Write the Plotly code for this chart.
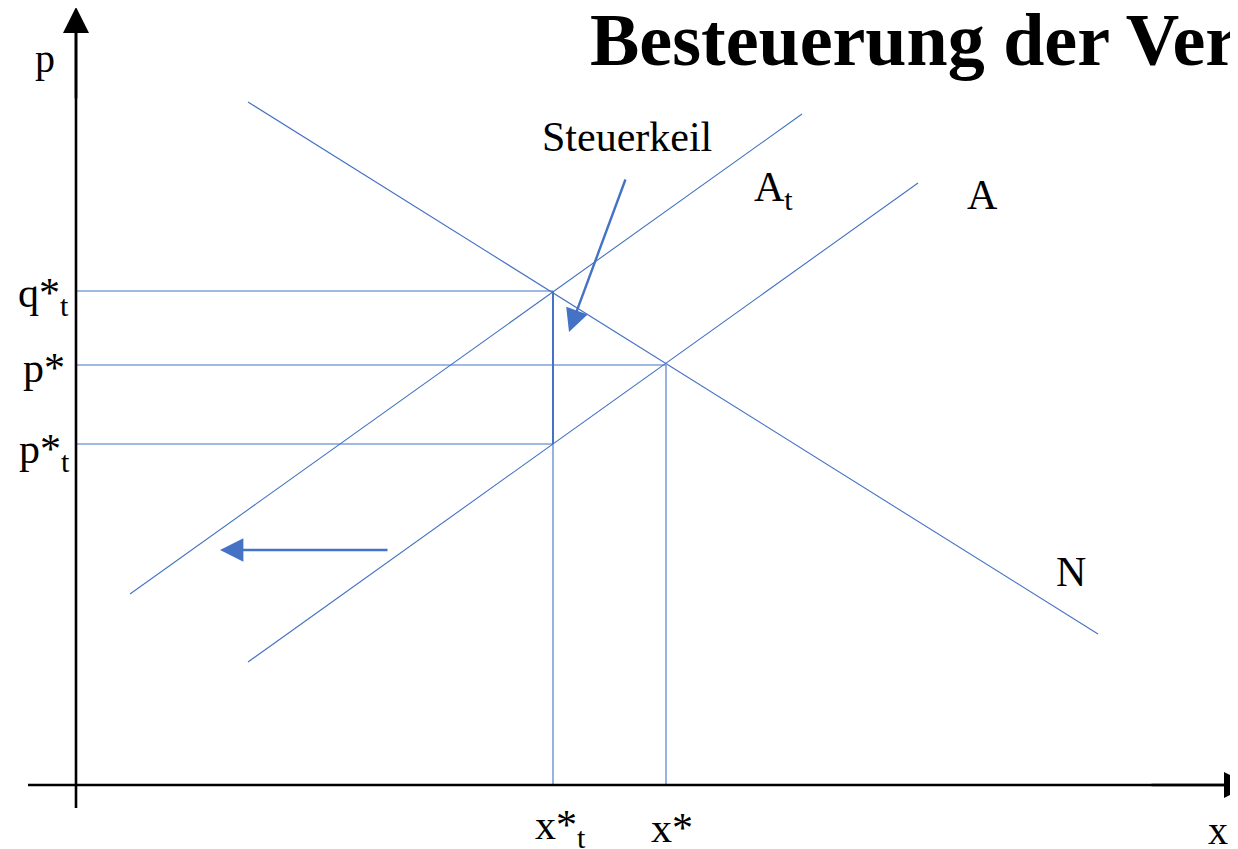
import plotly.graph_objects as go

# ---- data (drawing units: x to the right, y downward, canvas 1238 x 849) ----
demand_x = [248, 1098]          # N
demand_y = [102, 634]
supply_x = [248, 918]           # A
supply_y = [662, 183]
supply_t_x = [130, 802]         # A_t
supply_t_y = [594, 114]

axis_origin_x = 76
axis_origin_y = 785

price_levels = [291, 365, 444]            # q*_t, p*, p*_t
price_ends = [553, 666, 553]
SUB = "<sub><span style='font-size:30px'>t</span></sub>"
price_labels = ["q*" + SUB, "p*", "p*" + SUB]
price_label_x = [43, 44, 44]
price_label_y = [296, 368, 452]

qty_levels = [553, 666]                   # x*_t, x*
qty_tops = [291, 365]
qty_labels = ["x*" + SUB, "x*"]
qty_label_x = [560, 672]

wedge_x = [553, 553]
wedge_y = [291, 444]

curve_labels = ["A" + SUB, "A", "N"]
curve_label_x = [773, 982, 1071]
curve_label_y = [190, 195, 572]

title_text = "Besteuerung der Verbrauchsteuer"

BLUE = "#4472C4"
FONT = "Liberation Serif, Times New Roman, serif"

# body has an 8px margin in the page: shift the plotting area accordingly
OFF = 8

fig = go.Figure()

line_style = dict(color=BLUE, width=1.1)

for xs, ys in [(demand_x, demand_y), (supply_x, supply_y), (supply_t_x, supply_t_y)]:
    fig.add_trace(go.Scatter(x=xs, y=ys, mode="lines", line=line_style, hoverinfo="skip"))

for lvl, end in zip(price_levels, price_ends):
    fig.add_trace(go.Scatter(x=[axis_origin_x, end], y=[lvl, lvl], mode="lines",
                             line=line_style, hoverinfo="skip"))

for q, top in zip(qty_levels, qty_tops):
    fig.add_trace(go.Scatter(x=[q, q], y=[top, axis_origin_y], mode="lines",
                             line=line_style, hoverinfo="skip"))

fig.add_trace(go.Scatter(x=wedge_x, y=wedge_y, mode="lines",
                         line=dict(color=BLUE, width=2), hoverinfo="skip"))

# axes (black)
fig.add_trace(go.Scatter(x=[axis_origin_x, axis_origin_x], y=[808, 25], mode="lines",
                         line=dict(color="black", width=2.6), hoverinfo="skip"))
fig.add_trace(go.Scatter(x=[28, 1230], y=[axis_origin_y, axis_origin_y], mode="lines",
                         line=dict(color="black", width=2.6), hoverinfo="skip"))

annotations = []

def arrow(x0, y0, x1, y1, color, width, head=2, size=1.0):
    annotations.append(dict(x=x1, y=y1, ax=x0, ay=y0, xref="x", yref="y",
                            axref="x", ayref="y", showarrow=True, arrowhead=head,
                            arrowsize=size, arrowwidth=width, arrowcolor=color,
                            text="", standoff=0, startstandoff=0))

# axis heads
arrow(axis_origin_x, 100, axis_origin_x, 7, "black", 2.6, head=2, size=2.0)
arrow(1150, axis_origin_y, 1250, axis_origin_y, "black", 2.6, head=2, size=2.0)
# tax wedge pointer and shift arrow
arrow(626, 178, 569, 332, BLUE, 2.4, head=2, size=1.9)
arrow(389, 550, 220, 550, BLUE, 2.6, head=2, size=1.8)

def label(txt, x, y, size=42, **kw):
    annotations.append(dict(x=x, y=y, xref="x", yref="y", text=txt, showarrow=False,
                            font=dict(family=FONT, size=size, color="black"), **kw))

label("p", 45, 58, size=40)
label("x", 1218, 830, size=40)
for t, xx, yy in zip(price_labels, price_label_x, price_label_y):
    label(t, xx, yy, size=42)
for t, xx in zip(qty_labels, qty_label_x):
    label(t, xx, 828, size=42)
for t, xx, yy in zip(curve_labels, curve_label_x, curve_label_y):
    label(t, xx, yy, size=42)
label("Steuerkeil", 627, 137, size=42)

annotations.append(dict(x=588, y=40, xref="x", yref="y", text="<b>" + title_text + "</b>",
                        showarrow=False, xanchor="left",
                        font=dict(family=FONT, size=74, color="black")))

fig.update_layout(
    width=1238, height=849,
    margin=dict(l=0, r=0, t=0, b=0),
    paper_bgcolor="white", plot_bgcolor="white",
    showlegend=False,
    annotations=annotations,
    xaxis=dict(range=[OFF, 1238 + OFF], visible=False, fixedrange=True),
    yaxis=dict(range=[849 + OFF, OFF], visible=False, fixedrange=True),
)

fig.write_html("out.html", config={"displayModeBar": False})
